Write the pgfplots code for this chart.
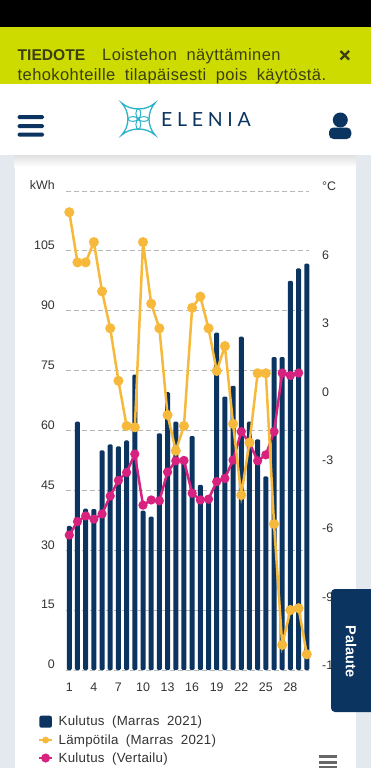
\documentclass[border=0pt]{standalone}
\usepackage{pgfplots}
\pgfplotsset{compat=1.18}
\usepackage{fontspec}
\setmainfont{Liberation Sans}
\newfontfamily\wide[WordSpace=1.9,LetterSpace=2.5]{Liberation Sans}
\newfontfamily\legfont[WordSpace=1.9,LetterSpace=2]{Liberation Sans}
\newfontfamily\logofont[LetterSpace=24]{Lato}
\definecolor{navy}{HTML}{0B3560}
\definecolor{sun}{HTML}{F6B93B}
\definecolor{mag}{HTML}{D8227F}
\definecolor{lime}{HTML}{CEDB00}
\definecolor{pagebg}{HTML}{E4E9EF}
\definecolor{teal2}{HTML}{2CB3C9}
\definecolor{olive}{HTML}{3B400F}
\definecolor{ink}{HTML}{333333}
\pgfplotstableread{
day kwh
1 36.1
2 62.2
3 40.4
4 40.3
5 55.0
6 56.5
7 56.0
8 57.5
9 74.0
10 39.9
11 38.4
12 59.3
13 69.6
14 62.2
15 53.3
16 58.6
17 46.4
18 42.0
19 84.5
20 68.5
21 71.2
22 83.5
23 62.2
24 57.8
25 48.5
26 78.4
27 78.4
28 97.5
29 100.6
30 101.8
}\bars
\pgfplotstableread{
day c
1 8.07
2 5.87
3 5.87
4 6.76
5 4.60
6 2.98
7 0.68
8 -1.30
9 -1.36
10 6.76
11 4.06
12 2.98
13 -0.82
14 -2.39
15 -1.30
16 3.88
17 4.37
18 2.98
19 1.11
20 2.20
21 -1.21
22 -4.33
23 -2.03
24 1.01
25 1.01
26 -5.60
27 -10.90
28 -9.37
29 -9.29
30 -11.31
}\temps
\pgfplotstableread{
day kwh
1 33.8
2 37.2
3 38.6
4 37.8
5 39.1
6 43.6
7 47.5
8 49.5
9 54.1
10 41.3
11 42.6
12 42.4
13 49.6
14 52.4
15 52.5
16 44.3
17 42.6
18 42.8
19 47.2
20 48.0
21 52.6
22 59.7
23 56.9
24 52.4
25 53.9
26 59.7
27 74.4
28 73.8
29 74.4
}\compare
\pgfplotsset{
  base/.style={
    scale only axis, width=243pt, height=479pt,
    xmin=0.597, xmax=30.27, ymin=0,
    axis line style={draw=none},
    major tick length=0pt,
    tick style={draw=none},
    anchor=south west, at={(66pt,-670pt)},
    ticklabel style={font=\fontsize{12.4}{15}\selectfont, text=ink},
  },
}
\begin{document}
\begin{tikzpicture}[x=1pt,y=1pt]
\useasboundingbox (0,0) rectangle (371,-768);
\begin{scope}
\clip (0,0) rectangle (371,-768);
% page chrome
\fill[pagebg] (0,-155) rectangle (371,-768);
\fill[white] (14.7,-155) rectangle (356,-768);
\shade[top color=black!12, bottom color=white] (14.7,-155) rectangle (356,-167);
\fill[black] (0,0) rectangle (371,-27.5);
\fill[lime] (0,-27.5) rectangle (371,-84);
\node[anchor=base west,inner sep=0pt,text=olive,font=\fontsize{15.6}{18}\selectfont] at (17.5,-61) {\textbf{TIEDOTE}};
\node[anchor=base west,inner sep=0pt,text=olive,font=\wide\fontsize{16.5}{18}\selectfont] at (102,-61) {Loistehon näyttäminen};
\node[anchor=base west,inner sep=0pt,text=olive,font=\wide\fontsize{16.5}{18}\selectfont] at (17.5,-81) {tehokohteille tilapäisesti pois käytöstä.};
\draw[olive,line width=2.2pt] (340.5,-51) -- (349,-59.5) (349,-51) -- (340.5,-59.5);
\fill[white] (0,-84) rectangle (371,-155);
% hamburger
\fill[navy,rounded corners=1.5pt] (17.5,-115) rectangle (44,-119);
\fill[navy,rounded corners=1.5pt] (17.5,-124) rectangle (44,-128);
\fill[navy,rounded corners=1.5pt] (17.5,-132.7) rectangle (44,-136.7);
% user
\fill[navy] (340.3,-120) circle (7.5);
\fill[navy,rounded corners=4.5pt] (329,-139) -- (329,-127.5) -- (351.3,-127.5) -- (351.3,-139) -- cycle;
% logo
\draw[teal2,line width=1.3pt,line join=miter] (121.7,-103) .. controls (131,-111) and (146,-111) .. (155,-103)
  .. controls (147,-112) and (147,-126) .. (155,-135)
  .. controls (146,-127) and (131,-127) .. (121.7,-135)
  .. controls (130,-126) and (130,-112) .. (121.7,-103) -- cycle;
\draw[teal2,line width=1pt] (138.3,-113.5) ellipse (2.4 and 4.8) (138.3,-124.5) ellipse (2.4 and 4.8) (132.8,-119) ellipse (4.8 and 2.4) (143.8,-119) ellipse (4.8 and 2.4);
\node[anchor=base west,inner sep=0pt,text=navy,font=\logofont\fontsize{19.5}{20}\selectfont] at (161,-126.7) {ELENIA};
% bars, comparison, legend
\begin{axis}[base, ymax=120,
  ytick={0,15,...,120},
  yticklabels={0,15,30,45,60,75,90,105,kWh},
  yticklabel style={anchor=east,inner sep=0pt,xshift=-11pt,yshift=5.5pt},
  xtick={1,4,...,28},
  xticklabels={1,4,7,10,13,16,19,22,25,28},
  xticklabel style={anchor=center,inner sep=0pt,yshift=-17pt},
  ymajorgrids,
  major grid style={draw=black!28,line width=0.8pt,dash pattern=on 5pt off 3pt},
  legend style={at={(0,0)},anchor=north west,xshift=-28pt,yshift=-45.5pt,draw=none,fill=none,
    inner sep=0pt,row sep=6.8pt,font=\legfont\fontsize{13.3}{15}\selectfont,text=ink,
    nodes={inner sep=0pt,anchor=west}},
  legend cell align=left,
  clip=false,
]
\addplot[ybar, bar width=5pt, fill=navy, draw=none, rounded corners=1.2pt,
  legend image code/.code={\fill[navy,rounded corners=2pt] (0pt,-6pt) rectangle (12.5pt,6pt); \path (18pt,0pt);}]
  table[x=day,y=kwh] {\bars};
\addlegendentry{Kulutus (Marras 2021)}
\addlegendimage{legend image code/.code={\draw[sun,line width=2.4pt] (0pt,0pt) -- (12.5pt,0pt); \fill[sun] (6.2pt,0pt) circle (3.2pt); \path (18pt,0pt);}}
\addlegendentry{Lämpötila (Marras 2021)}
\addplot[mag, line width=2.5pt, mark=*, mark size=3.3pt, mark options={fill=mag,draw=none},
  legend image code/.code={\draw[mag,line width=2.4pt] (0pt,0pt) -- (12.5pt,0pt); \fill[mag] (6.2pt,0pt) circle (3.2pt); \path (18pt,0pt);}]
  table[x=day,y=kwh] {\compare};
\addlegendentry{Kulutus (Vertailu)}
\end{axis}
% temperature on its own scale
\begin{axis}[base, ymin=-12, ymax=9,
  ytick={-12,-9,...,9},
  yticklabels={-12,-9,-6,-3,0,3,6,°C},
  yticklabel pos=right,
  yticklabel style={anchor=west,inner sep=0pt,xshift=13pt,yshift=4.5pt},
  xtick=\empty,
  clip=false,
]
\addplot[sun, line width=2.5pt, mark=*, mark size=3.7pt, mark options={fill=sun,draw=none}]
  table[x=day,y=c] {\temps};
\end{axis}
% feedback tab
\fill[navy,rounded corners=4pt] (380,-589) -- (331,-589) -- (331,-712) -- (380,-712) -- cycle;
\node[rotate=-90,text=white,font=\fontsize{14.5}{16}\selectfont,inner sep=0pt] at (351,-651.5) {\textbf{Palaute}};
% menu icon
\fill[black!60] (319,-755) rectangle (337,-757.8);
\fill[black!60] (319,-760.8) rectangle (337,-763.6);
\fill[black!60] (319,-766.2) rectangle (337,-769);
\end{scope}
\end{tikzpicture}
\end{document}
